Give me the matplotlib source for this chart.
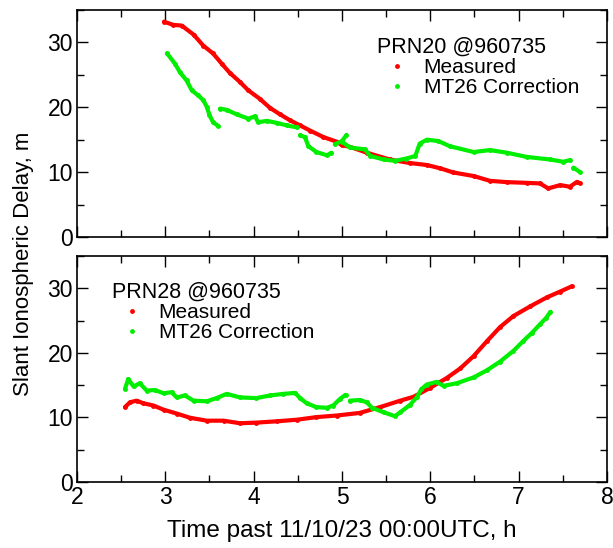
import numpy as np
import matplotlib
matplotlib.use('Agg')
import matplotlib.pyplot as plt
from matplotlib.lines import Line2D
from matplotlib.ticker import MultipleLocator

plt.rcParams['font.family'] = ['Liberation Sans', 'DejaVu Sans']

# PRN20 (top panel)
t20_meas = [2.985, 3.09, 3.185, 3.32, 3.43, 3.54, 3.64, 3.73, 3.845, 3.94, 4.07, 4.185,
            4.30, 4.41, 4.525, 4.64, 4.79, 4.94, 5.00, 5.09, 5.28, 5.54, 5.77, 5.96,
            6.11, 6.26, 6.49, 6.675, 6.865, 7.09, 7.24, 7.335, 7.47, 7.58, 7.66, 7.69]
d20_meas = [33.2, 32.7, 32.6, 31.2, 29.5, 28.3, 26.7, 25.3, 23.9, 22.6, 21.3, 19.9,
            18.9, 18.0, 17.2, 16.4, 15.4, 14.7, 14.15, 13.9, 13.0, 11.95, 11.4, 11.1,
            10.6, 9.95, 9.4, 8.66, 8.46, 8.35, 8.26, 7.5, 8.0, 7.75, 8.5, 8.3]
# NaN marks a gap in the correction data
t20_corr = [3.02, 3.11, 3.165, 3.24, 3.30, 3.37, 3.43, 3.47, 3.50, 3.54, 3.60, np.nan,
            3.62, 3.695, 3.81, 3.94, 4.015, 4.05, 4.15, 4.26, 4.375, 4.49, np.nan,
            4.525, 4.58, 4.62, 4.71, 4.83, 4.88, np.nan,
            4.92, 5.00, 5.05, np.nan,
            5.00, 5.09, 5.26, 5.32, 5.47, 5.60, 5.73, 5.83, 5.88, 5.96, 6.09, 6.22,
            6.49, 6.675, 6.865, 7.09, 7.355, 7.505, 7.58, np.nan, 7.62, 7.69]
d20_corr = [28.3, 26.7, 25.4, 24.15, 22.6, 21.85, 21.1, 20.05, 18.8, 17.7, 17.1, np.nan,
            19.8, 19.6, 18.9, 18.25, 18.6, 17.7, 17.9, 17.6, 17.2, 16.9, np.nan,
            15.7, 15.4, 14.0, 13.1, 12.6, 13.0, np.nan,
            14.3, 14.8, 15.7, np.nan,
            14.7, 13.8, 13.5, 12.5, 11.95, 11.75, 12.1, 12.5, 14.4, 15.0, 14.8, 14.0,
            13.1, 13.4, 13.0, 12.35, 11.95, 11.6, 11.85, np.nan, 10.7, 10.05]

# PRN28 (bottom panel)
t28_meas = [2.543, 2.60, 2.675, 2.75, 2.865, 2.98, 3.13, 3.28, 3.47, 3.66, 3.845, 4.03,
            4.26, 4.49, 4.71, 4.94, 5.20, 5.43, 5.66, 5.81, 6.00, 6.185, 6.34, 6.49,
            6.64, 6.79, 6.94, 7.13, 7.32, 7.47, 7.60]
d28_meas = [11.6, 12.35, 12.6, 12.2, 11.85, 11.2, 10.6, 9.95, 9.5, 9.5, 9.1, 9.2,
            9.4, 9.65, 10.05, 10.3, 10.7, 11.6, 12.6, 13.2, 14.6, 16.1, 17.6, 19.5,
            21.8, 24.0, 25.7, 27.2, 28.6, 29.5, 30.3]
t28_corr = [2.543, 2.58, 2.64, 2.71, 2.79, 2.88, 2.98, 3.07, 3.13, 3.22, 3.32, 3.47,
            3.58, 3.695, 3.845, 4.03, 4.185, 4.335, 4.47, 4.525, 4.60, 4.71, 4.83, 4.90,
            4.98, 5.04, np.nan, 5.09, 5.20, 5.28, 5.34, 5.47, 5.60, 5.66, 5.77, 5.845,
            5.90, 5.96, 6.07, 6.15, 6.30, 6.49, 6.64, 6.79, 6.94, 7.05, 7.15, 7.24,
            7.31, 7.36]
d28_corr = [14.4, 15.95, 14.8, 15.3, 14.15, 14.25, 13.75, 13.9, 13.1, 13.4, 12.6, 12.5,
            13.0, 13.65, 13.1, 13.0, 13.4, 13.65, 13.8, 13.0, 12.2, 11.6, 11.5, 11.85,
            12.9, 13.5, np.nan, 12.6, 12.7, 12.35, 11.5, 10.8, 10.2, 10.8, 11.95, 13.1,
            14.4, 15.1, 15.5, 14.9, 15.3, 16.2, 17.3, 18.65, 20.3, 21.8, 23.1, 24.4,
            25.4, 26.35]

red = '#ff0000'
green = '#00ee00'

fig = plt.figure(figsize=(6.13, 5.48), dpi=100)
ax1 = fig.add_axes([0.1256, 0.5675, 0.8646, 0.4143])
ax2 = fig.add_axes([0.1256, 0.1204, 0.8646, 0.4124])


def style(ax):
    ax.set_xlim(2, 8)
    ax.set_ylim(0, 35)
    ax.xaxis.set_major_locator(MultipleLocator(1))
    ax.xaxis.set_minor_locator(MultipleLocator(0.5))
    ax.yaxis.set_major_locator(MultipleLocator(10))
    ax.yaxis.set_minor_locator(MultipleLocator(5))
    ax.tick_params(which='both', direction='in', top=True, right=True,
                   width=1, labelsize=16.5, pad=3)
    ax.tick_params(which='major', length=8)
    ax.tick_params(which='minor', length=5)
    for s in ax.spines.values():
        s.set_linewidth(1.2)


def curve(ax, t, d, c):
    ax.plot(t, d, color=c, lw=3.0, marker='o', ms=3.5, mew=0,
            solid_capstyle='round', solid_joinstyle='round')


def leg(ax, title, pos):
    h = [Line2D([], [], ls='none', marker='o', ms=3.5, color=red, mew=0),
         Line2D([], [], ls='none', marker='o', ms=3.5, color=green, mew=0)]
    lg = ax.legend(h, ['Measured', 'MT26 Correction'], title=title,
                   loc='upper left', bbox_to_anchor=pos, frameon=False,
                   fontsize=15, title_fontsize=15.5, alignment='left',
                   handlelength=1.9, handletextpad=0.35, labelspacing=0.05,
                   borderpad=0.2)
    lg._legend_box.sep = 0


style(ax1)
style(ax2)
ax1.tick_params(labelbottom=False)

curve(ax1, t20_meas, d20_meas, red)
curve(ax1, t20_corr, d20_corr, green)
curve(ax2, t28_meas, d28_meas, red)
curve(ax2, t28_corr, d28_corr, green)

leg(ax1, 'PRN20 @960735', (0.538, 0.945))
leg(ax2, 'PRN28 @960735', (0.038, 0.95))

ax2.set_xlabel('Time past 11/10/23 00:00UTC, h', fontsize=17.5, labelpad=8)
fig.text(0.039, 0.518, 'Slant Ionospheric Delay, m', rotation=90,
         ha='center', va='center', fontsize=16)

fig.savefig('out.png', dpi=100)
